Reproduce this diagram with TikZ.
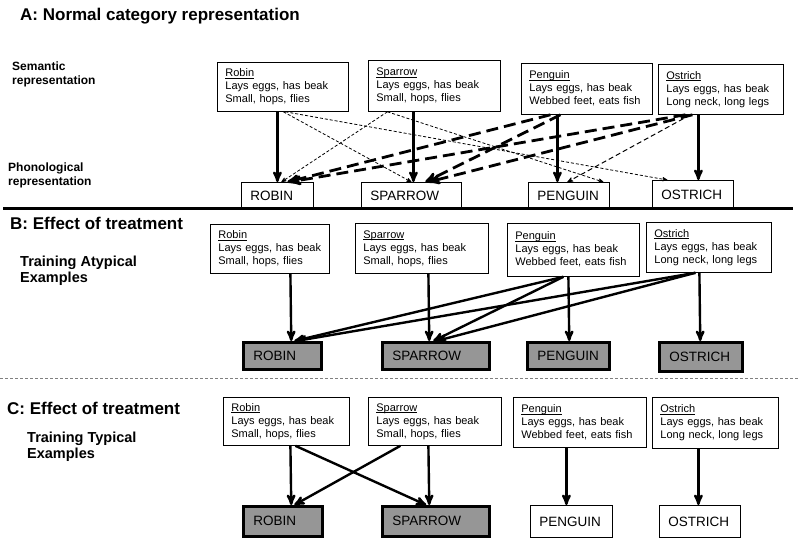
\documentclass[tikz,border=0pt]{standalone}
\usepackage{fontspec}
\setmainfont{Liberation Sans}
\usetikzlibrary{arrows,calc,shapes}
\definecolor{boxgray}{RGB}{150,150,150}
\newcommand{\birdname}[1]{\underline{\smash{#1}\vphantom{A}}}

\begin{document}
\begin{tikzpicture}[->,>=stealth',x=1pt,y=-1pt,
	title/.style={font=\fontsize{17}{20}\selectfont\bfseries, inner sep=0pt, anchor=base west},
	side/.style={font=\fontsize{12}{14}\selectfont\bfseries, align=left, inner sep=0pt, anchor=north west},
	sideb/.style={side, font=\fontsize{14.5}{15.5}\selectfont\bfseries},
	sem/.style={draw, line width=0.8pt, anchor=north west, inner xsep=8pt, inner ysep=2pt,
		align=left, font=\fontsize{11}{13}\selectfont},
	phon/.style={draw, line width=0.8pt, anchor=north west, inner xsep=9pt, inner ysep=2pt,
		align=left, font=\fontsize{13.5}{16}\selectfont},
	treated/.style={phon, fill=boxgray, line width=2.5pt, inner xsep=10pt},
	strong/.style={line width=2.4pt},
	assoc/.style={line width=2.8pt, dash pattern=on 12pt off 6pt},
	weak/.style={line width=0.8pt, dash pattern=on 3pt off 2pt}]
	\useasboundingbox (0,0) rectangle (800,542);

	% A: normal category representation
	\node[title] (titleA) at (20,20) {A: Normal category representation};
	\node[side] (semlab) at (12,62) {Semantic\\representation};
	\node[side] (phonlab) at (8,163) {Phonological\\representation};

	\node[sem, text width=115pt, minimum height=49pt] (semA1) at (217,62)
		{\birdname{Robin}\\Lays eggs, has beak\\Small, hops, flies};
	\node[sem, text width=116pt, minimum height=51pt] (semA2) at (368,60)
		{\birdname{Sparrow}\\Lays eggs, has beak\\Small, hops, flies};
	\node[sem, text width=115pt, minimum height=51pt] (semA3) at (521,63)
		{\birdname{Penguin}\\Lays eggs, has beak\\Webbed feet, eats fish};
	\node[sem, text width=109pt, minimum height=50pt] (semA4) at (658,64)
		{\birdname{Ostrich}\\Lays eggs, has beak\\Long neck, long legs};

	\node[phon, text width=54pt, minimum height=27pt] (phonA1) at (241,182) {ROBIN};
	\node[phon, text width=82pt, minimum height=27pt] (phonA2) at (361,182) {SPARROW};
	\node[phon, text width=63pt, minimum height=27pt] (phonA3) at (528,182) {PENGUIN};
	\node[phon, text width=63pt, minimum height=29pt] (phonA4) at (652,180) {OSTRICH};

	\path ($(semA1.south)+(0.5,0)$) edge[weak] (phonA2.north);
	\path ($(semA1.south)+(2.5,0)$) edge[weak] ($(phonA4.north)+(-25.5,0)$);
	\path ($(semA2.south)+(-47,0)$) edge[weak] ($(phonA1.north)+(4,0)$)
		edge[weak] ($(phonA3.north)+(34.5,0)$);
	\path ($(semA4.south)+(-30.5,0)$) edge[weak, line width=1pt, dash pattern=on 5pt off 3pt]
		($(phonA3.north)+(-1.5,0)$);

	\path ($(semA3.south)+(-36.5,0)$) edge[assoc] ($(phonA1.north)+(10,0)$);
	\path ($(semA3.south)+(-26.5,0)$) edge[assoc] ($(phonA2.north)+(14,0)$);
	\path ($(semA4.south)+(-35.5,0)$) edge[assoc] ($(phonA1.north)+(12,0)$);
	\path ($(semA4.south)+(-28.5,0)$) edge[assoc] ($(phonA2.north)+(17,0)$);

	\path ($(semA1.south)+(-5.5,0)$) edge[strong] (phonA1.north);
	\path ($(semA2.south)+(-21,0)$) edge[strong] ($(phonA2.north)+(2,0)$);
	\path ($(semA3.south)+(-29.5,0)$) edge[strong] ($(phonA3.north)+(-11.5,0)$);
	\path ($(semA4.south)+(-22.5,0)$) edge[strong] ($(phonA4.north)+(5.5,0)$);

	\draw[-, line width=3pt] (3,208) -- (793,208);

	% B: training atypical examples
	\node[title] (titleB) at (10,229) {B: Effect of treatment};
	\node[sideb] (atyplab) at (20,256) {Training Atypical\\Examples};

	\node[sem, text width=103pt, minimum height=49pt] (semB1) at (210,224)
		{\birdname{Robin}\\Lays eggs, has beak\\Small, hops, flies};
	\node[sem, text width=117pt, minimum height=50pt] (semB2) at (355,223)
		{\birdname{Sparrow}\\Lays eggs, has beak\\Small, hops, flies};
	\node[sem, text width=116pt, minimum height=53pt] (semB3) at (507,223)
		{\birdname{Penguin}\\Lays eggs, has beak\\Webbed feet, eats fish};
	\node[sem, text width=109pt, minimum height=50pt] (semB4) at (646,222)
		{\birdname{Ostrich}\\Lays eggs, has beak\\Long neck, long legs};

	\node[treated, text width=58pt, minimum height=27pt] (phonB1) at (242,341) {ROBIN};
	\node[treated, text width=87pt, minimum height=27pt] (phonB2) at (381,341) {SPARROW};
	\node[treated, text width=62pt, minimum height=27pt] (phonB3) at (526,341) {PENGUIN};
	\node[treated, text width=63pt, minimum height=29pt] (phonB4) at (658,341) {OSTRICH};

	\path ($(semB1.south)+(20.5,0)$) edge[strong] ($(phonB1.north)+(9,0)$);
	\path ($(semB2.south)+(6.5,0)$) edge[strong] ($(phonB2.north)+(-6.5,0)$);
	\path ($(semB3.south)+(-5,0)$) edge[strong] ($(phonB3.north)+(1,0)$);
	\path ($(semB4.south)+(-9.5,0)$) edge[strong] ($(phonB4.north)+(-0.5,0)$);
	\path ($(semB3.south)+(-10,0)$) edge[strong] ($(phonB1.north)+(12,0)$)
		edge[strong] ($(phonB2.north)+(-2.5,0)$);
	\path ($(semB4.south)+(-13.5,0)$) edge[strong] ($(phonB1.north)+(14,0)$)
		edge[strong] ($(phonB2.north)+(0.5,0)$);

	\draw[-, gray, line width=0.8pt, dash pattern=on 3pt off 2pt] (0,378) -- (800,378);

	% C: training typical examples
	\node[title] (titleC) at (7,414) {C: Effect of treatment};
	\node[sideb] (typlab) at (27,432) {Training Typical\\Examples};

	\node[sem, text width=110pt, minimum height=48pt] (semC1) at (223,397)
		{\birdname{Robin}\\Lays eggs, has beak\\Small, hops, flies};
	\node[sem, text width=117pt, minimum height=48pt] (semC2) at (368,397)
		{\birdname{Sparrow}\\Lays eggs, has beak\\Small, hops, flies};
	\node[sem, text width=117pt, minimum height=50pt] (semC3) at (513,397)
		{\birdname{Penguin}\\Lays eggs, has beak\\Webbed feet, eats fish};
	\node[sem, text width=110pt, minimum height=51pt] (semC4) at (652,397)
		{\birdname{Ostrich}\\Lays eggs, has beak\\Long neck, long legs};

	\node[treated, text width=59pt, minimum height=30pt] (phonC1) at (242,505) {ROBIN};
	\node[treated, text width=87pt, minimum height=30pt] (phonC2) at (381,505) {SPARROW};
	\node[phon, text width=64pt, minimum height=32pt] (phonC3) at (530,505) {PENGUIN};
	\node[phon, text width=63pt, minimum height=32pt] (phonC4) at (659,505) {OSTRICH};

	\path ($(semC1.south)+(4,0)$) edge[strong] ($(phonC1.north)+(8.5,0)$);
	\path ($(semC2.south)+(-6.5,0)$) edge[strong] ($(phonC2.north)+(-6.5,0)$);
	\path ($(semC1.south)+(9,0)$) edge[strong] ($(phonC2.north)+(-9.5,0)$);
	\path ($(semC2.south)+(-34.5,0)$) edge[strong] ($(phonC1.north)+(11.5,0)$);
	\path ($(semC3.south)+(-13.5,0)$) edge[strong] ($(phonC3.north)+(-5,0)$);
	\path ($(semC4.south)+(-17,0)$) edge[strong] ($(phonC4.north)+(-1.5,0)$);
\end{tikzpicture}
\end{document}
